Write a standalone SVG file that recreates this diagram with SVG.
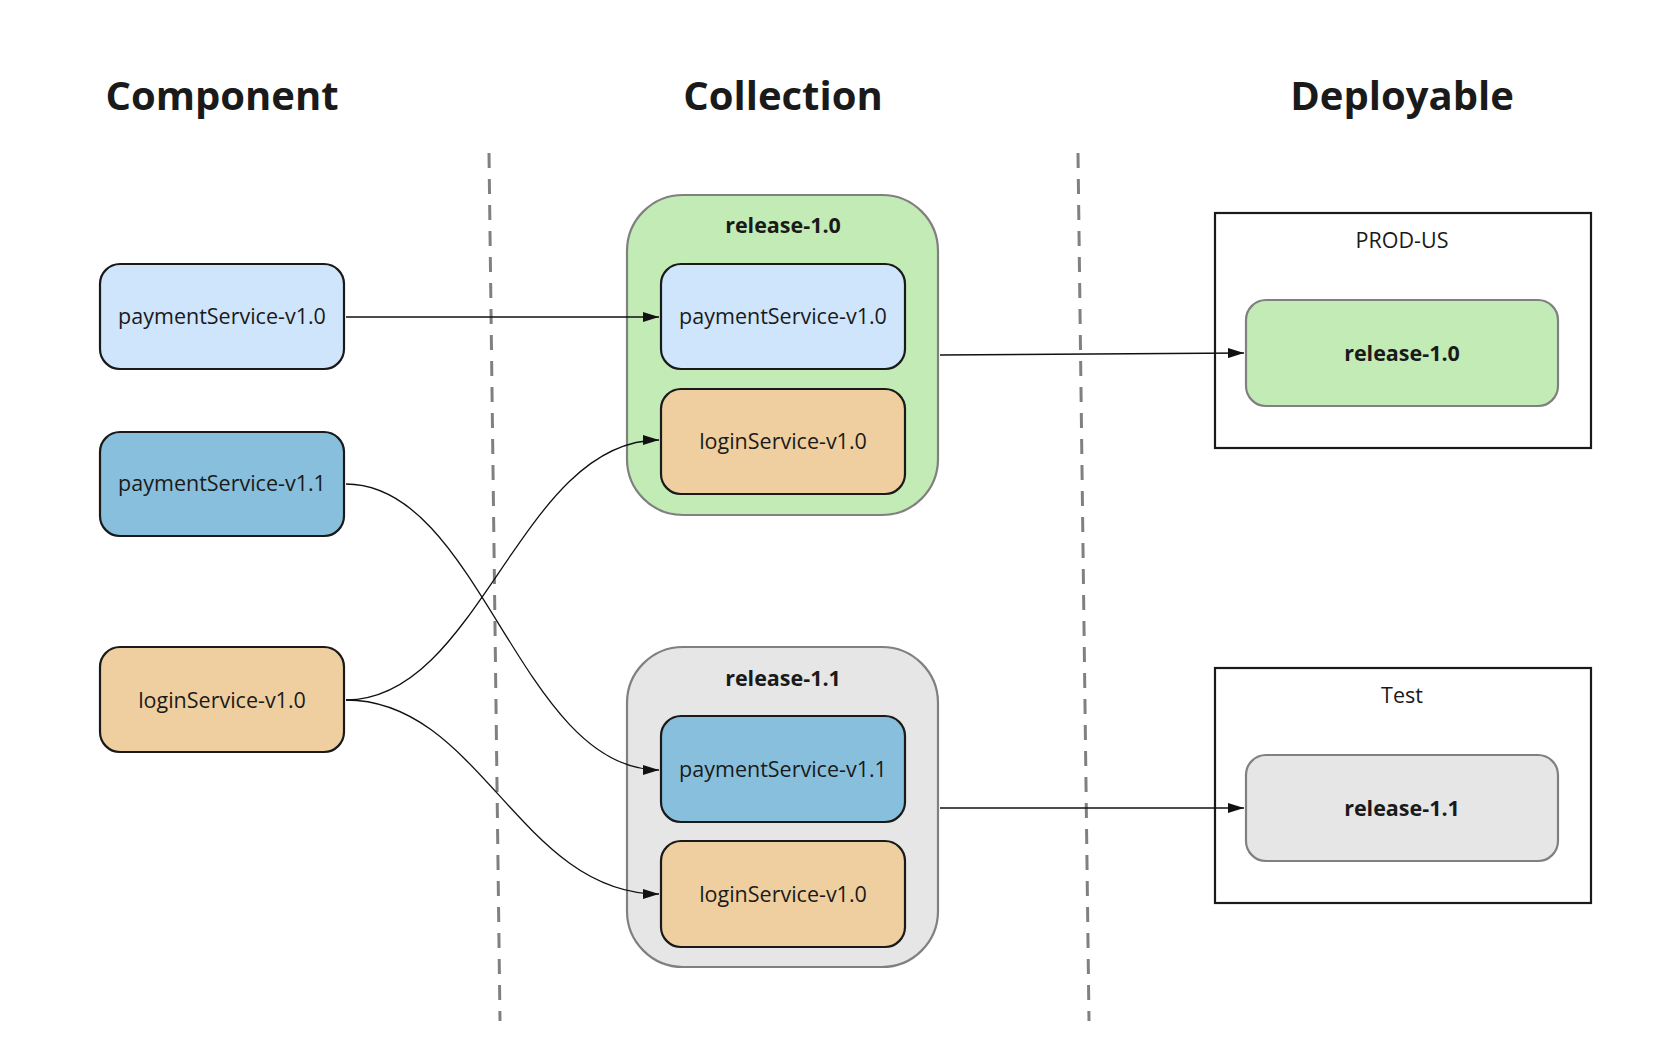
<svg xmlns="http://www.w3.org/2000/svg" width="1680" height="1062" viewBox="0 0 1680 1062">
<defs>
<style>
text{font-family:"Open Sans","Noto Sans","DejaVu Sans",sans-serif;fill:#1a1a1a;text-anchor:middle;dominant-baseline:central}
.h{font-size:40px;font-weight:bold}
.t{font-size:21.5px}
.b{font-size:21.5px;font-weight:bold}
.n{stroke:#1a1a1a;stroke-width:2.2}
.c{stroke:#808080;stroke-width:2.2}
.lb{fill:#cfe5fc}.db{fill:#88bfdc}.tan{fill:#efcf9f}.gr{fill:#c3ebb5}.gy{fill:#e6e6e6}
.e{fill:none;stroke:#111;stroke-width:1.3;marker-end:url(#a)}
.d{stroke:#808080;stroke-width:3;stroke-dasharray:15,11}
</style>
<marker id="a" viewBox="0 0 16 10" refX="16" refY="5" markerWidth="16" markerHeight="10" markerUnits="userSpaceOnUse" orient="auto"><path d="M0,0 L16,5 L0,10 z" fill="#111"/></marker>
</defs>
<rect width="1680" height="1062" fill="#fff"/>
<text class="h" x="222" y="94">Component</text>
<text class="h" x="783" y="94">Collection</text>
<text class="h" x="1402" y="94">Deployable</text>
<line class="d" x1="489" y1="153" x2="500" y2="1021"/>
<line class="d" x1="1078" y1="153" x2="1089" y2="1021"/>
<g id="c-pay10"><rect class="n lb" x="100" y="264" width="244" height="105" rx="20"/><text class="t" x="222" y="315">paymentService-v1.0</text></g>
<g id="c-pay11"><rect class="n db" x="100" y="432" width="244" height="104" rx="20"/><text class="t" x="222" y="482">paymentService-v1.1</text></g>
<g id="c-login"><rect class="n tan" x="100" y="647" width="244" height="105" rx="20"/><text class="t" x="222" y="699">loginService-v1.0</text></g>
<g id="r10"><rect class="c gr" x="627" y="195" width="311" height="320" rx="56"/><text class="b" x="783" y="224">release-1.0</text>
<rect class="n lb" x="661" y="264" width="244" height="105" rx="20"/><text class="t" x="783" y="315">paymentService-v1.0</text>
<rect class="n tan" x="661" y="389" width="244" height="105" rx="20"/><text class="t" x="783" y="440">loginService-v1.0</text></g>
<g id="r11"><rect class="c gy" x="627" y="647" width="311" height="320" rx="56"/><text class="b" x="783" y="677">release-1.1</text>
<rect class="n db" x="661" y="716" width="244" height="106" rx="20"/><text class="t" x="783" y="768">paymentService-v1.1</text>
<rect class="n tan" x="661" y="841" width="244" height="106" rx="20"/><text class="t" x="783" y="893">loginService-v1.0</text></g>
<g id="prod"><rect x="1215" y="213" width="376" height="235" fill="#fff" stroke="#1a1a1a" stroke-width="2.2"/><text class="t" x="1402" y="239">PROD-US</text>
<rect class="c gr" x="1246" y="300" width="312" height="106" rx="20"/><text class="b" x="1402" y="352">release-1.0</text></g>
<g id="test"><rect x="1215" y="668" width="376" height="235" fill="#fff" stroke="#1a1a1a" stroke-width="2.2"/><text class="t" x="1402" y="694">Test</text>
<rect class="c gy" x="1246" y="755" width="312" height="106" rx="20"/><text class="b" x="1402" y="807">release-1.1</text></g>
<g id="edges">
<path class="e" d="M346,317 L659,317"/>
<path class="e" d="M940,355 L1244,353"/>
<path class="e" d="M940,808 L1244,808"/>
<path class="e" d="M346,484 C480,484 520,770 659,770"/>
<path class="e" d="M346,700 C480,700 520,440 659,440"/>
<path class="e" d="M346,700 C480,700 520,894 659,894"/>
</g>
</svg>
